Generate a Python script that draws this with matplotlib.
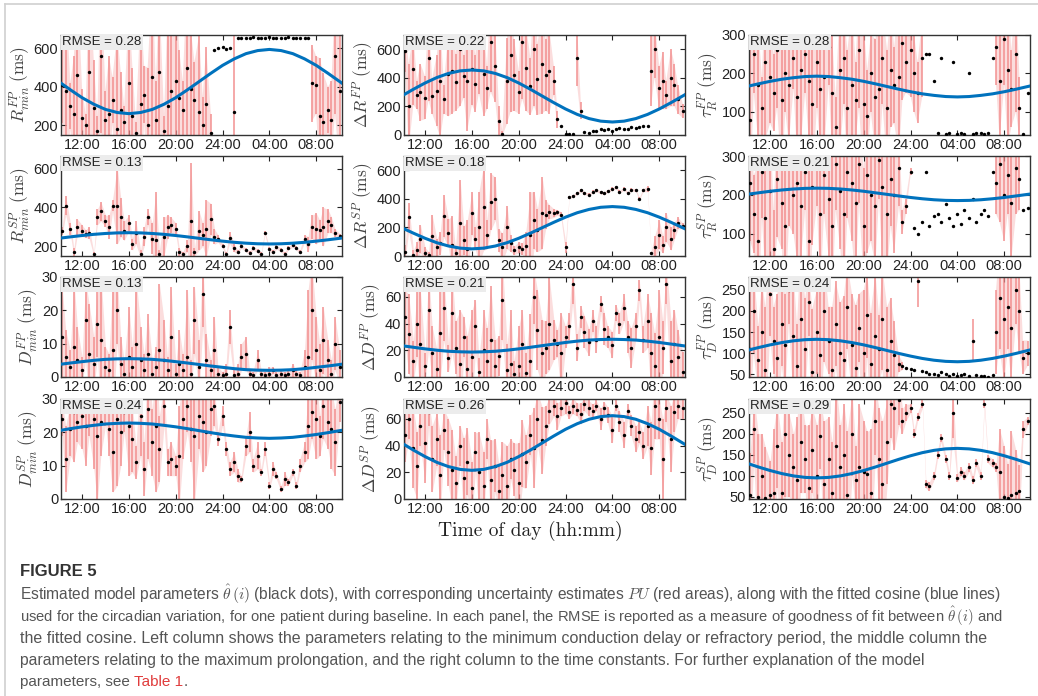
import matplotlib
matplotlib.use('Agg')
import matplotlib.pyplot as plt
from matplotlib.lines import Line2D
import numpy as np

# sample times (hours, 24 -> midnight, 28 -> 04:00 next day)
hours = [10.3, 10.6, 11.0, 11.3, 11.6, 12.0, 12.3, 12.6, 13.0, 13.3, 13.6, 14.0,
         14.3, 14.6, 15.0, 15.3, 15.6, 16.0, 16.3, 16.6, 17.0, 17.3, 17.6, 18.0,
         18.3, 18.6, 19.0, 19.3, 19.6, 20.0, 20.3, 20.6, 21.0, 21.3, 21.6, 22.0,
         22.3, 22.6, 23.0, 23.3, 23.6, 24.0, 24.3, 24.6, 25.0, 25.3, 25.6, 26.0,
         26.3, 26.6, 27.0, 27.3, 27.6, 28.0, 28.3, 28.6, 29.0, 29.3, 29.6, 30.0,
         30.3, 30.6, 31.0, 31.3, 31.6, 32.0, 32.3, 32.6, 33.0, 33.3, 33.6, 34.0]

fit_hours = [10, 11, 12, 13, 14, 15, 16, 17, 18, 19, 20, 21, 22,
             23, 24, 25, 26, 27, 28, 29, 30, 31, 32, 33, 34, 35]

tick_hours = [12, 16, 20, 24, 28, 32]
tick_labels = ['12:00', '16:00', '20:00', '24:00', '04:00', '08:00']

# ---- R_min FP
rmin_fp = [410, 380, 300, 260, 460, 240, 200, 480, 290, 170, 560, 230,
           260, 330, 180, 280, 220, 420, 250, 160, 310, 360, 200, 450,
           230, 480, 170, 300, 380, 430, 340, 280, 500, 390, 330, 270,
           200, 310, 160, 590, 600, 610, 595, 600, 270, 655, 655, 655,
           655, 658, 655, 655, 655, 660, 655, 655, 655, 655, 658, 655,
           655, 655, 655, 655, 420, 410, 250, 220, 280, 230, 560, 380]
rmin_fp_pu = [200, 500, 120, 300, 500, 150, 60, 500, 250, 80, 400, 150,
              300, 120, 500, 200, 80, 400, 250, 60, 500, 150, 300, 500,
              200, 400, 80, 500, 350, 500, 250, 150, 500, 300, 200, 400,
              150, 300, 100, 0, 0, 0, 0, 0, 500, 0, 0, 0,
              0, 0, 0, 0, 0, 0, 0, 0, 0, 0, 0, 0,
              0, 0, 0, 0, 200, 150, 300, 250, 120, 200, 300, 400]
rmin_fp_fit = [428, 385, 344, 310, 283, 267, 261, 267, 283, 310, 344, 385, 428,
               471, 512, 546, 573, 589, 595, 589, 573, 546, 512, 471, 428, 385]

# ---- Delta R FP
dr_fp = [590, 200, 460, 280, 300, 260, 540, 270, 310, 380, 250, 430,
         450, 370, 600, 410, 380, 460, 360, 690, 430, 330, 650, 480,
         100, 10, 380, 560, 420, 300, 650, 470, 340, 600, 390, 500,
         420, 450, 380, 110, 60, 10, 5, 10, 540, 170, 20, 15,
         25, 30, 40, 35, 45, 30, 40, 50, 45, 40, 55, 50,
         55, 60, 65, 450, 600, 330, 380, 280, 400, 350, 250, 170]
dr_fp_pu = [150, 300, 250, 100, 200, 150, 300, 120, 250, 400, 100, 300,
            300, 200, 400, 150, 350, 250, 200, 400, 300, 150, 350, 250,
            100, 20, 300, 400, 250, 150, 400, 300, 200, 400, 250, 350,
            250, 300, 100, 60, 0, 0, 0, 0, 200, 60, 0, 0,
            0, 0, 0, 0, 0, 0, 0, 0, 0, 0, 0, 0,
            0, 0, 0, 250, 200, 150, 200, 100, 200, 150, 100, 50]
dr_fp_fit = [273, 320, 364, 402, 431, 449, 455, 449, 431, 402, 364, 320, 273,
             226, 182, 144, 115, 97, 91, 97, 115, 144, 182, 226, 273, 320]

# ---- tau_R FP
taur_fp = [80, 250, 170, 110, 230, 190, 150, 260, 130, 200, 170, 240,
           140, 210, 250, 180, 120, 230, 160, 190, 270, 150, 60, 210,
           240, 110, 170, 130, 260, 120, 90, 200, 140, 160, 240, 110,
           210, 170, 190, 280, 230, 260, 200, 150, 240, 250, 250, 180,
           45, 240, 42, 45, 230, 42, 45, 43, 200, 42, 44, 45,
           43, 45, 240, 270, 180, 290, 210, 160, 250, 110, 42, 150]
taur_fp_pu = [200, 100, 150, 80, 200, 120, 100, 150, 200, 100, 150, 80,
              150, 200, 100, 150, 200, 120, 150, 200, 100, 150, 80, 200,
              120, 150, 200, 100, 150, 200, 120, 100, 150, 200, 120, 150,
              150, 100, 200, 150, 80, 120, 100, 80, 100, 0, 0, 0,
              0, 0, 0, 0, 0, 0, 0, 0, 0, 0, 0, 0,
              0, 0, 0, 100, 150, 120, 200, 100, 150, 80, 0, 0]
taur_fp_fit = [166, 173, 179.5, 185, 189, 192, 193, 192, 189, 185, 179.5, 173, 166,
               159, 152.5, 147, 143, 140, 139, 140, 143, 147, 152.5, 159, 166, 173]

# ---- R_min SP
rmin_sp = [280, 410, 290, 170, 300, 280, 265, 270, 160, 350, 380, 330,
           300, 410, 410, 350, 280, 320, 210, 270, 160, 250, 350, 240,
           230, 160, 250, 300, 310, 290, 170, 160, 200, 330, 170, 280,
           260, 290, 340, 250, 240, 200, 160, 245, 190, 170, 200, 180,
           165, 190, 175, 160, 270, 185, 170, 195, 180, 160, 190, 205,
           190, 170, 240, 210, 300, 290, 285, 300, 330, 310, 270, 255]
rmin_sp_pu = [20, 50, 30, 20, 40, 30, 20, 30, 10, 40, 50, 30,
              60, 30, 200, 100, 50, 40, 30, 60, 20, 50, 40, 80,
              250, 20, 100, 60, 40, 30, 20, 10, 30, 300, 20, 100,
              60, 150, 80, 40, 20, 10, 10, 30, 20, 10, 10, 10,
              10, 10, 10, 10, 10, 10, 10, 10, 10, 10, 10, 10,
              10, 10, 20, 40, 60, 80, 50, 100, 60, 40, 20, 10]
rmin_sp_fit = [241, 248.5, 255.5, 261.5, 266, 269, 270, 269, 266, 261.5, 255.5, 248.5, 241,
               233.5, 226.5, 220.5, 216, 213, 212, 213, 216, 220.5, 226.5, 233.5, 241, 248.5]

# ---- Delta R SP
dr_sp = [30, 270, 10, 40, 120, 20, 10, 140, 60, 90, 280, 160,
         80, 20, 230, 110, 50, 300, 120, 200, 340, 150, 380, 400,
         110, 60, 200, 90, 40, 60, 50, 70, 150, 250, 180, 300,
         290, 310, 300, 305, 290, 60, 410, 420, 440, 460, 440, 430,
         450, 460, 445, 440, 455, 470, 480, 450, 470, 440, 465, 460,
         400, 460, 470, 20, 60, 150, 80, 200, 120, 180, 230, 210]
dr_sp_pu = [50, 100, 30, 60, 100, 40, 20, 150, 60, 80, 150, 100,
            200, 40, 300, 100, 200, 150, 80, 250, 300, 100, 200, 150,
            80, 100, 150, 60, 30, 40, 40, 100, 300, 200, 150, 250,
            100, 50, 30, 20, 20, 40, 10, 10, 10, 10, 10, 10,
            10, 10, 10, 10, 10, 10, 10, 10, 10, 10, 10, 10,
            10, 10, 20, 10, 80, 100, 60, 100, 80, 60, 40, 20]
dr_sp_fit = [198, 160, 124, 93, 70, 55, 50, 55, 70, 93, 124, 160, 198,
             236, 272, 303, 326, 341, 346, 341, 326, 303, 272, 236, 198, 160]

# ---- tau_R SP
taur_sp = [230, 150, 80, 260, 140, 210, 60, 240, 180, 120, 270, 200,
           230, 170, 260, 80, 220, 290, 150, 250, 190, 120, 280, 210,
           150, 260, 230, 180, 280, 120, 250, 200, 170, 290, 220, 150,
           240, 200, 270, 130, 170, 260, 115, 100, 130, 260, 120, 145,
           150, 130, 175, 140, 120, 150, 125, 160, 140, 190, 130, 150,
           160, 145, 260, 230, 280, 200, 250, 180, 270, 240, 160, 165]
taur_sp_pu = [150, 100, 200, 120, 150, 200, 100, 150, 120, 200, 150, 100,
              200, 150, 100, 200, 150, 120, 200, 100, 150, 200, 120, 150,
              200, 120, 150, 200, 100, 150, 200, 120, 150, 100, 200, 150,
              120, 150, 100, 30, 20, 10, 0, 0, 0, 0, 0, 0,
              0, 0, 0, 0, 0, 0, 0, 0, 0, 0, 0, 0,
              0, 0, 0, 80, 150, 120, 100, 150, 120, 80, 0, 0]
taur_sp_fit = [201, 205, 209, 212.3, 214.9, 216.5, 217, 216.5, 214.9, 212.3, 209, 205, 201,
               196.9, 193, 189.7, 187.1, 185.5, 185, 185.5, 187.1, 189.7, 193, 196.9, 201, 205]

# ---- D_min FP
dmin_fp = [12, 6, 3, 9, 5, 2, 17, 7, 4, 16, 11, 3,
           2, 8, 20, 4, 1, 6, 3, 10, 5, 2, 7, 1,
           3, 8, 5, 2, 12, 1, 4, 2, 6, 1, 17, 3,
           25, 5, 2, 8, 1, 0.5, 1, 15, 0.5, 1, 6, 7,
           1, 0.5, 5, 1, 0.5, 1, 2, 0.5, 1, 0.5, 1, 2,
           1, 0.5, 3, 6, 20, 8, 2, 11, 5, 1, 10, 3]
dmin_fp_pu = [15, 8, 5, 20, 10, 4, 12, 15, 8, 10, 20, 6,
              5, 20, 10, 8, 4, 15, 6, 20, 10, 5, 12, 4,
              6, 20, 12, 4, 15, 3, 10, 5, 20, 4, 10, 8,
              10, 8, 3, 10, 2, 1, 3, 5, 2, 3, 4, 5,
              1, 1, 3, 1, 1, 2, 1, 1, 1, 1, 1, 2,
              1, 1, 5, 20, 15, 10, 8, 10, 6, 4, 8, 5]
dmin_fp_fit = [3.75, 4.2, 4.6, 5.0, 5.3, 5.44, 5.5, 5.44, 5.3, 5.0, 4.6, 4.2, 3.75,
               3.3, 2.9, 2.5, 2.2, 2.06, 2.0, 2.06, 2.2, 2.5, 2.9, 3.3, 3.75, 4.2]

# ---- Delta D FP
dd_fp = [45, 32, 12, 40, 25, 8, 50, 18, 6, 33, 52, 14,
         48, 22, 10, 30, 6, 15, 38, 4, 20, 12, 28, 8,
         16, 58, 5, 10, 2, 8, 25, 3, 12, 60, 35, 18,
         22, 40, 28, 25, 18, 30, 38, 70, 22, 45, 34, 26,
         42, 28, 55, 36, 30, 24, 48, 40, 52, 30, 22, 38,
         65, 28, 42, 18, 8, 30, 22, 70, 12, 25, 15, 4]
dd_fp_pu = [20, 30, 15, 25, 40, 10, 30, 20, 15, 35, 25, 10,
            30, 20, 40, 15, 25, 35, 20, 10, 30, 25, 40, 20,
            15, 30, 20, 40, 10, 30, 25, 15, 35, 20, 30, 25,
            20, 35, 15, 10, 30, 8, 10, 15, 10, 8, 12, 10,
            8, 10, 6, 12, 8, 10, 6, 8, 10, 12, 15, 10,
            8, 10, 20, 30, 25, 35, 20, 15, 30, 25, 20, 15]
dd_fp_fit = [23.5, 22.3, 21.1, 20.1, 19.3, 18.9, 18.7, 18.9, 19.3, 20.1, 21.1, 22.3, 23.5,
             24.7, 25.9, 26.9, 27.7, 28.1, 28.3, 28.1, 27.7, 26.9, 25.9, 24.7, 23.5, 22.3]

# ---- tau_D FP
taud_fp = [110, 200, 85, 150, 60, 240, 130, 90, 170, 120, 250, 140,
           70, 180, 110, 220, 55, 150, 95, 200, 130, 60, 170, 100,
           85, 210, 120, 65, 160, 100, 190, 75, 140, 110, 180, 60,
           130, 95, 75, 70, 65, 62, 60, 270, 58, 55, 52, 50,
           48, 55, 50, 47, 52, 46, 48, 50, 47, 130, 48, 46,
           47, 45, 48, 150, 230, 180, 210, 160, 250, 200, 90, 100]
taud_fp_pu = [150, 100, 80, 120, 150, 100, 80, 150, 100, 120, 80, 150,
              100, 150, 120, 80, 150, 100, 150, 120, 80, 150, 100, 120,
              150, 100, 120, 150, 80, 150, 100, 120, 150, 80, 120, 150,
              100, 80, 20, 10, 0, 0, 0, 60, 0, 0, 0, 0,
              0, 0, 0, 0, 0, 0, 0, 0, 0, 50, 0, 0,
              0, 0, 0, 100, 120, 150, 100, 120, 80, 100, 40, 30]
taud_fp_fit = [106.5, 113.4, 119.8, 125.2, 129.4, 132.1, 133, 132.1, 129.4, 125.2, 119.8, 113.4, 106.5,
               99.6, 93.3, 87.8, 83.6, 80.9, 80, 80.9, 83.6, 87.8, 93.3, 99.6, 106.5, 113.4]

# ---- D_min SP
dmin_sp = [24, 12, 21, 26, 23, 25, 22, 27, 24, 19, 23, 28,
           21, 14, 24, 20, 26, 22, 18, 11, 25, 9, 27, 17,
           22, 15, 28, 11, 12, 10, 13, 24, 28, 21, 19, 25,
           23, 20, 27, 28, 18, 25, 15, 9, 11, 7, 6, 16,
           20, 10, 13, 8, 15, 4, 9, 7, 3, 6, 5, 8,
           4, 10, 14, 22, 26, 24, 19, 28, 23, 21, 17, 29]
dmin_sp_pu = [5, 10, 8, 15, 6, 10, 12, 8, 15, 20, 10, 6,
              8, 12, 20, 10, 6, 15, 10, 5, 12, 8, 15, 10,
              20, 10, 6, 4, 5, 3, 15, 12, 8, 10, 20, 10,
              15, 10, 8, 6, 2, 3, 2, 2, 3, 2, 1, 3,
              6, 2, 4, 1, 2, 1, 2, 1, 1, 2, 1, 1,
              1, 2, 3, 10, 8, 12, 6, 10, 8, 12, 10, 6]
dmin_sp_fit = [20.5, 21.1, 21.65, 22.1, 22.5, 22.7, 22.8, 22.7, 22.5, 22.1, 21.65, 21.1, 20.5,
               19.9, 19.35, 18.9, 18.5, 18.3, 18.2, 18.3, 18.5, 18.9, 19.35, 19.9, 20.5, 21.1]

# ---- Delta D SP
dd_sp = [48, 60, 38, 25, 55, 42, 65, 30, 45, 18, 52, 35,
         22, 12, 40, 16, 28, 8, 35, 20, 10, 45, 14, 25,
         6, 18, 10, 30, 22, 12, 34, 28, 48, 38, 60, 44,
         55, 66, 70, 62, 68, 72, 65, 70, 67, 64, 71, 68,
         66, 70, 60, 68, 63, 52, 70, 58, 48, 66, 55, 45,
         50, 40, 55, 38, 70, 60, 30, 68, 45, 65, 70, 68]
dd_sp_pu = [20, 15, 30, 25, 15, 30, 10, 25, 20, 30, 15, 25,
            30, 20, 15, 30, 25, 20, 15, 30, 25, 15, 30, 20,
            20, 25, 30, 15, 20, 30, 25, 20, 15, 30, 20, 25,
            15, 10, 8, 10, 6, 8, 5, 6, 5, 8, 5, 6,
            5, 4, 8, 5, 6, 10, 4, 8, 10, 5, 8, 10,
            8, 10, 15, 20, 25, 15, 30, 10, 25, 15, 10, 8]
dd_sp_fit = [42, 36.7, 31.8, 27.5, 24.3, 22.2, 21.5, 22.2, 24.3, 27.5, 31.8, 36.7, 42,
             47.3, 52.3, 56.5, 59.8, 61.8, 62.5, 61.8, 59.8, 56.5, 52.3, 47.3, 42, 36.7]

# ---- tau_D SP
taud_sp = [55, 210, 50, 100, 48, 55, 60, 170, 60, 200, 150, 120,
           90, 180, 140, 70, 160, 100, 195, 80, 140, 60, 170, 120,
           150, 55, 200, 90, 120, 110, 105, 60, 230, 140, 80, 180,
           270, 260, 280, 230, 250, 260, 200, 240, 270, 80, 75, 100,
           150, 190, 140, 100, 250, 95, 110, 100, 120, 90, 130, 100,
           270, 140, 130, 120, 110, 50, 48, 55, 60, 65, 210, 230]
taud_sp_pu = [100, 80, 150, 100, 120, 80, 150, 100, 120, 150, 100, 80,
              150, 120, 80, 150, 100, 120, 80, 150, 100, 120, 150, 100,
              120, 150, 100, 80, 150, 120, 100, 150, 80, 120, 150, 100,
              80, 100, 60, 30, 20, 10, 10, 10, 10, 10, 10, 10,
              10, 10, 10, 10, 60, 10, 10, 10, 10, 10, 10, 10,
              10, 10, 10, 10, 100, 120, 80, 150, 100, 60, 20, 10]
taud_sp_fit = [130, 120.9, 112.5, 105.3, 99.7, 96.2, 95, 96.2, 99.7, 105.3, 112.5, 120.9, 130,
               139.1, 147.5, 154.8, 160.3, 163.8, 165, 163.8, 160.3, 154.8, 147.5, 139.1, 130, 120.9]

# (values, uncertainty, fit, ylabel, ylim, yticks, rmse) row by row
panels = [
    (rmin_fp, rmin_fp_pu, rmin_fp_fit, r'$R_{min}^{FP}\ \mathrm{(ms)}$', (150, 670), [200, 400, 600], '0.28'),
    (dr_fp, dr_fp_pu, dr_fp_fit, r'$\Delta R^{FP}\ \mathrm{(ms)}$', (0, 700), [0, 200, 400, 600], '0.22'),
    (taur_fp, taur_fp_pu, taur_fp_fit, r'$\tau_R^{FP}\ \mathrm{(ms)}$', (40, 300), [100, 200, 300], '0.28'),
    (rmin_sp, rmin_sp_pu, rmin_sp_fit, r'$R_{min}^{SP}\ \mathrm{(ms)}$', (150, 665), [200, 400, 600], '0.13'),
    (dr_sp, dr_sp_pu, dr_sp_fit, r'$\Delta R^{SP}\ \mathrm{(ms)}$', (0, 700), [0, 200, 400, 600], '0.18'),
    (taur_sp, taur_sp_pu, taur_sp_fit, r'$\tau_R^{SP}\ \mathrm{(ms)}$', (42, 300), [100, 200, 300], '0.21'),
    (dmin_fp, dmin_fp_pu, dmin_fp_fit, r'$D_{min}^{FP}\ \mathrm{(ms)}$', (0, 30), [0, 10, 20, 30], '0.13'),
    (dd_fp, dd_fp_pu, dd_fp_fit, r'$\Delta D^{FP}\ \mathrm{(ms)}$', (0, 75), [0, 20, 40, 60], '0.21'),
    (taud_fp, taud_fp_pu, taud_fp_fit, r'$\tau_D^{FP}\ \mathrm{(ms)}$', (44, 280), [50, 100, 150, 200, 250], '0.24'),
    (dmin_sp, dmin_sp_pu, dmin_sp_fit, r'$D_{min}^{SP}\ \mathrm{(ms)}$', (0, 30), [0, 10, 20, 30], '0.24'),
    (dd_sp, dd_sp_pu, dd_sp_fit, r'$\Delta D^{SP}\ \mathrm{(ms)}$', (0, 75), [0, 20, 40, 60], '0.26'),
    (taud_sp, taud_sp_pu, taud_sp_fit, r'$\tau_D^{SP}\ \mathrm{(ms)}$', (45, 282), [50, 100, 150, 200, 250], '0.29'),
]

plt.rcParams['mathtext.fontset'] = 'cm'
plt.rcParams['font.family'] = ['Liberation Sans', 'DejaVu Sans']

W, H = 1038, 696
fig = plt.figure(figsize=(W / 100, H / 100), dpi=100)

# page frame
fig.add_artist(Line2D([5 / W, 1], [1 - 4 / H, 1 - 4 / H], transform=fig.transFigure, color='#d0d0d0', lw=1.2))
fig.add_artist(Line2D([5 / W, 5 / W], [0, 1 - 4 / H], transform=fig.transFigure, color='#d0d0d0', lw=1.2))

col_left = [61, 404, 749]
row_top = [35, 156, 277, 399]
ax_w, ax_h = 281, 100

t = np.array(hours)
for i, (vals, pu, fit, ylab, ylim, yticks, rmse) in enumerate(panels):
    r, c = divmod(i, 3)
    ax = fig.add_axes([col_left[c] / W, 1 - (row_top[r] + ax_h) / H, ax_w / W, ax_h / H])
    v = np.array(vals, dtype=float)
    u = np.array(pu, dtype=float)
    m = u > 0
    # uncertainty: soft band plus thin spikes
    ax.fill_between(t, v - u, v + u, where=m, color='#f7b4b4', alpha=0.45, lw=0, zorder=1)
    ax.vlines(t[m], v[m] - u[m], v[m] + u[m], color='#f28c8c', lw=1.4, alpha=0.75, zorder=2)
    ax.scatter(t, v, s=6, c='k', linewidths=0, zorder=3)
    ax.plot(fit_hours, fit, color='#0072BD', lw=2.2, zorder=4)
    ax.set_xlim(10.2, 34.2)
    ax.set_ylim(*ylim)
    ax.set_xticks(tick_hours)
    ax.set_xticklabels(tick_labels)
    ax.set_yticks(yticks)
    ax.tick_params(direction='in', top=True, right=True, length=3.5, width=0.8,
                   labelsize=10.5, colors='#222222', pad=2)
    for s in ax.spines.values():
        s.set_color('#333333')
        s.set_linewidth(1.0)
    ax.set_ylabel(ylab, fontsize=12.5, color='#444444', labelpad=1)
    ax.text(0.004, 0.99, 'RMSE = ' + rmse, transform=ax.transAxes, ha='left', va='top',
            fontsize=9.5, color='#222222', zorder=6,
            bbox=dict(boxstyle='square,pad=0.12', fc='#ececec', ec='none'))

fig.text(530 / W, 1 - 531 / H, 'Time of day (hh:mm)', family=['cmr10', 'DejaVu Serif'],
         ha='center', va='center', fontsize=14, color='#222222')

# caption
cap_font = ['Liberation Sans', 'DejaVu Sans']
cap_size = 11.0
fig.text(20 / W, 1 - 572 / H, 'FIGURE 5', family=cap_font, fontsize=12, fontweight='bold',
         color='#333333', va='center')
lines = [
    r'Estimated model parameters $\hat{\theta}\,(i)$ (black dots), with corresponding uncertainty estimates $PU$ (red areas), along with the fitted cosine (blue lines)',
    r'used for the circadian variation, for one patient during baseline. In each panel, the RMSE is reported as a measure of goodness of fit between $\hat{\theta}\,(i)$ and',
    'the fitted cosine. Left column shows the parameters relating to the minimum conduction delay or refractory period, the middle column the',
    'parameters relating to the maximum prolongation, and the right column to the time constants. For further explanation of the model',
]
line_ends = [1004, 1004, 985, 918]   # right end of each caption line in the page
renderer = fig.canvas.get_renderer()
for k, line in enumerate(lines):
    txt = fig.text(20 / W, 1 - (594 + 22 * k) / H, line, family=cap_font, fontsize=cap_size,
                   color='#555555', va='center')
    width = txt.get_window_extent(renderer).width
    txt.set_fontsize(min(cap_size * (line_ends[k] - 20) / width, 12))

last = fig.text(20 / W, 1 - 682 / H, 'parameters, see ', family=cap_font, fontsize=cap_size,
                color='#555555', va='center')
bb = last.get_window_extent(renderer)
tab = fig.text(bb.x1 / W, 1 - 682 / H, 'Table 1', family=cap_font, fontsize=cap_size,
               color='#e03c3c', va='center')
bb2 = tab.get_window_extent(renderer)
fig.text(bb2.x1 / W, 1 - 682 / H, '.', family=cap_font, fontsize=cap_size, color='#555555', va='center')

fig.savefig('out.png', dpi=100)
